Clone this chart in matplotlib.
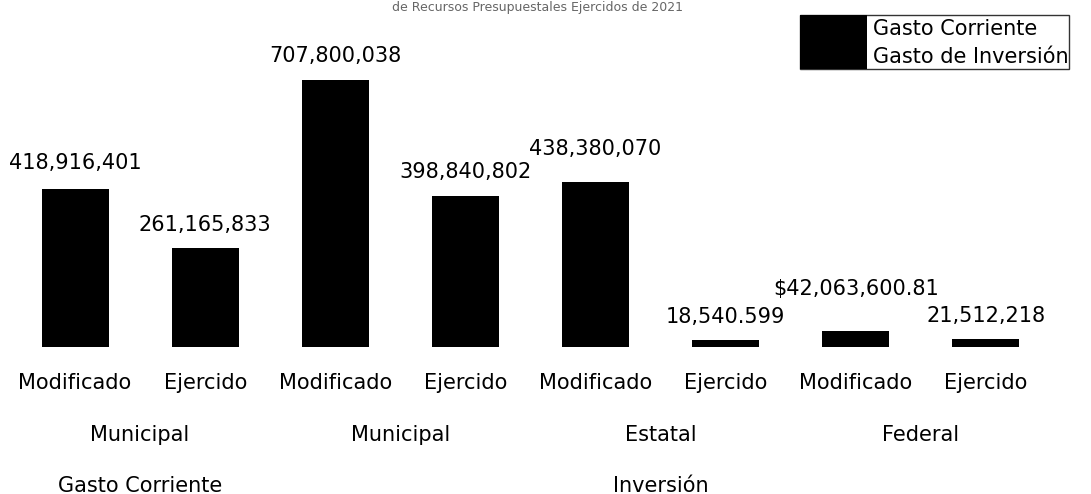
import matplotlib
matplotlib.use("Agg")
import matplotlib.pyplot as plt
import numpy as np

# data
tipo = ['Modificado', 'Ejercido', 'Modificado', 'Ejercido',
        'Modificado', 'Ejercido', 'Modificado', 'Ejercido']
orden = ['Municipal', 'Municipal', 'Estatal', 'Federal']
gasto = ['Gasto Corriente', 'Inversión']
valores = [418916401, 261165833, 707800038, 398840802,
           438380070, 18540599, 42063600.81, 21512218]
etiquetas = ['418,916,401', '261,165,833', '707,800,038', '398,840,802',
             '438,380,070', '18,540.599', '$42,063,600.81', '21,512,218']
serie = ['Gasto Corriente', 'Gasto Corriente', 'Gasto de Inversión', 'Gasto de Inversión',
         'Gasto de Inversión', 'Gasto de Inversión', 'Gasto de Inversión', 'Gasto de Inversión']
titulo = 'de Recursos Presupuestales Ejercidos de 2021'

plt.rcParams['font.family'] = ['DejaVu Sans']
fs = 15

fig = plt.figure(figsize=(10.91, 4.94), dpi=100)
ax = fig.add_axes([10 / 1091, 147 / 494, 1041 / 1091, 317 / 494])

x = np.arange(len(valores))
colores = {'Gasto Corriente': 'black', 'Gasto de Inversión': 'black'}
for nombre in ['Gasto Corriente', 'Gasto de Inversión']:
    idx = [i for i, s in enumerate(serie) if s == nombre]
    ax.bar(x[idx], [valores[i] for i in idx], width=0.515,
           color=colores[nombre], label=nombre)

# data labels (gap above bar in points)
pad = [14.4, 12.2, 13, 13, 19.4, 12.2, 26, 12.2]
for i, (v, t) in enumerate(zip(valores, etiquetas)):
    ax.annotate(t, xy=(x[i], v), xytext=(0, pad[i]), textcoords='offset points',
                ha='center', va='baseline', fontsize=fs)

ax.set_xlim(-0.5, len(valores) - 0.5)
ax.set_ylim(0, 840e6)
ax.set_yticks([])
ax.set_xticks([])
for s in ax.spines.values():
    s.set_visible(False)

# multi-level category axis
tr = ax.get_xaxis_transform()
for i, t in enumerate(tipo):
    ax.annotate(t, xy=(x[i], 0), xycoords=tr, xytext=(0, -26),
                textcoords='offset points', ha='center', va='center',
                fontsize=fs, annotation_clip=False)
for j, t in enumerate(orden):
    ax.annotate(t, xy=(2 * j + 0.5, 0), xycoords=tr, xytext=(0, -63),
                textcoords='offset points', ha='center', va='center',
                fontsize=fs, annotation_clip=False)
grupos = [(0, 1), (2, 7)]
for g, (a, b) in zip(gasto, grupos):
    ax.annotate(g, xy=((a + b) / 2, 0), xycoords=tr, xytext=(0, -100),
                textcoords='offset points', ha='center', va='center',
                fontsize=fs, annotation_clip=False)

leg = ax.legend(loc='upper left', bbox_to_anchor=(800 / 1091, 1 - 15 / 494),
                bbox_transform=fig.transFigure, fontsize=fs, frameon=True,
                fancybox=False, borderpad=0, labelspacing=0, handlelength=3.2,
                handleheight=1.63, handletextpad=0.3, borderaxespad=0)
leg.get_frame().set_edgecolor('black')
leg.get_frame().set_linewidth(1)

# title sits at the very top edge, as in the cropped original
fig.text(538 / 1091, 1 - 1 / 494, titulo, ha='center', va='top',
         fontsize=9, color='#666666')

fig.savefig('out.png', dpi=100)
